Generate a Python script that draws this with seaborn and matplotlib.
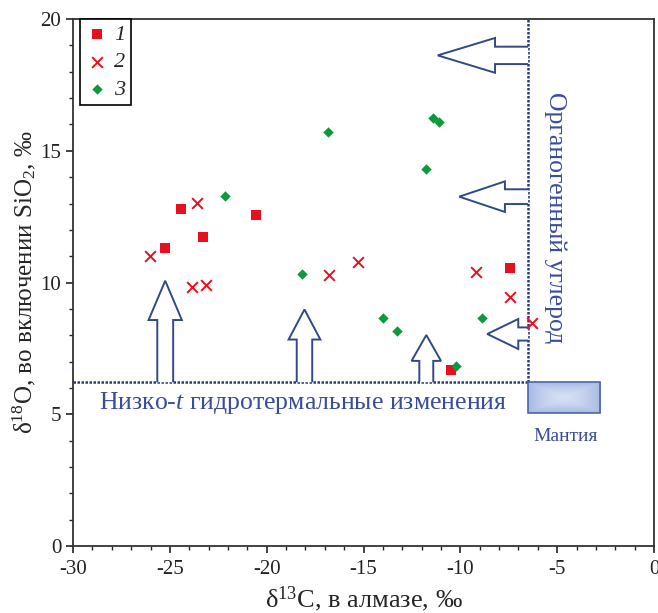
import numpy as np
import pandas as pd
import matplotlib
matplotlib.use("Agg")
import matplotlib.pyplot as plt
from matplotlib.patches import Polygon, Rectangle
import seaborn as sns

# ---- data ----
s1_x = [-25.25, -24.42, -23.29, -20.55, -10.49, -7.44]
s1_y = [11.31, 12.79, 11.73, 12.56, 6.68, 10.55]
s2_x = [-26.02, -23.61, -23.87, -23.15, -16.80, -15.27, -9.19, -7.42, -6.30]
s2_y = [10.99, 13.03, 9.82, 9.91, 10.28, 10.79, 10.39, 9.46, 8.45]
s3_x = [-22.17, -16.82, -18.18, -11.40, -11.11, -11.79, -14.01, -13.29, -8.90, -10.23]
s3_y = [13.28, 15.70, 10.31, 16.23, 16.09, 14.30, 8.64, 8.15, 8.64, 6.83]
series_labels = ["1", "2", "3"]

x_ticks = [-30, -25, -20, -15, -10, -5, 0]
y_ticks = [0, 5, 10, 15, 20]

hydro_y = 6.22      # low-t hydrothermal boundary
organic_x = -6.5    # organic carbon boundary
mantle_x = [-6.5, -2.77]
mantle_y = [5.05, 6.22]

df = pd.DataFrame({
    "x": s1_x + s2_x + s3_x,
    "y": s1_y + s2_y + s3_y,
    "s": [series_labels[0]] * len(s1_x) + [series_labels[1]] * len(s2_x) + [series_labels[2]] * len(s3_x),
})

sns.set_theme(style="ticks")
plt.rcParams["font.family"] = ["Liberation Serif", "DejaVu Serif"]
plt.rcParams["mathtext.fontset"] = "custom"
plt.rcParams["mathtext.rm"] = "Liberation Serif"
plt.rcParams["mathtext.it"] = "Liberation Serif:italic"
plt.rcParams["axes.unicode_minus"] = False

fig = plt.figure(figsize=(6.58, 6.13), dpi=100)
ax = fig.add_axes([0.111, 0.109, 0.883, 0.860])

red = "#e8101c"
green = "#0a9a3c"
navy = "#2f4a86"
textblue = "#3a4c9c"

palette = {"1": red, "2": red, "3": green}

for lab, m, sz in [("1", "s", 48), ("2", "x", 60), ("3", "D", 28)]:
    sub = df[df["s"] == lab]
    sns.scatterplot(data=sub, x="x", y="y", ax=ax, color=palette[lab], marker=m,
                    s=sz, linewidth=1.4 if m == "x" else 0, label=lab, zorder=5)

# reference lines
ax.plot([-30, organic_x], [hydro_y, hydro_y], color="#2b3a78", lw=1.8, ls=(0, (1, 0.6)), zorder=3)
ax.plot([organic_x, organic_x], [hydro_y, 20], color="#2b3a78", lw=1.8, ls=(0, (1, 0.6)), zorder=3)

# mantle box with gradient
gx = np.linspace(-1, 1, 120)
gy = np.linspace(-1, 1, 40)
GX, GY = np.meshgrid(gx, gy)
r = np.clip(np.maximum(np.abs(GX), np.abs(GY)), 0, 1) ** 1.5
c_in = np.array([0.84, 0.88, 0.96])
c_out = np.array([0.66, 0.73, 0.89])
img = c_in[None, None, :] * (1 - r[..., None]) + c_out[None, None, :] * r[..., None]
ax.imshow(img, extent=[mantle_x[0], mantle_x[1], mantle_y[0], mantle_y[1]], aspect="auto", zorder=2)
ax.add_patch(Rectangle((mantle_x[0], mantle_y[0]), mantle_x[1] - mantle_x[0], mantle_y[1] - mantle_y[0],
                       fill=False, edgecolor="#4a68a8", lw=1.2, zorder=3))


def up_arrow(xc, y0, yhead, ytip, hw, hhw):
    pts = [(xc - hw, y0), (xc - hw, yhead), (xc - hhw, yhead), (xc, ytip),
           (xc + hhw, yhead), (xc + hw, yhead), (xc + hw, y0)]
    ax.add_patch(Polygon(pts, closed=False, fill=True, facecolor="white", edgecolor=navy, lw=1.4, zorder=4))


def left_arrow(yc, x0, xhead, xtip, hw, hhw):
    pts = [(x0, yc + hw), (xhead, yc + hw), (xhead, yc + hhw), (xtip, yc),
           (xhead, yc - hhw), (xhead, yc - hw), (x0, yc - hw)]
    ax.add_patch(Polygon(pts, closed=False, fill=True, facecolor="white", edgecolor=navy, lw=1.4, zorder=4))


up_arrow(-25.24, hydro_y, 8.58, 10.07, 0.41, 0.86)
up_arrow(-18.05, hydro_y, 7.84, 8.98, 0.40, 0.82)
up_arrow(-11.76, hydro_y, 7.03, 8.01, 0.36, 0.76)
left_arrow(18.62, organic_x, -8.21, -11.17, 0.33, 0.66)
left_arrow(13.26, organic_x, -7.70, -10.06, 0.28, 0.58)
left_arrow(8.05, organic_x, -7.01, -8.61, 0.25, 0.57)

ax.text(-18.1, 5.43, "Низко-$t$ гидротермальные изменения", color=textblue, fontsize=18.5,
        ha="center", va="center", zorder=6)
ax.text(-5.1, 12.45, "Органогенный углерод", color=textblue, fontsize=18.5, rotation=270,
        ha="center", va="center", zorder=6)
ax.text(-4.55, 4.18, "Мантия", color=textblue, fontsize=14, ha="center", va="center", zorder=6)

ax.set_xlim(-30, 0)
ax.set_ylim(0, 20)
ax.set_xticks(x_ticks)
ax.set_yticks(y_ticks)
ax.set_xticks(np.arange(-30, 1, 1), minor=True)
ax.set_yticks(np.arange(0, 21, 1), minor=True)
ax.tick_params(axis="both", which="major", direction="out", length=5, width=1.2, labelsize=15, colors="#222222")
ax.tick_params(axis="both", which="minor", direction="out", length=3, width=1.0)
ax.tick_params(axis="x", pad=5)
for sp in ax.spines.values():
    sp.set_color("#333333")
    sp.set_linewidth(1.3)

ax.set_xlabel("δ$^{13}$С, в алмазе, $‰$", fontsize=19, labelpad=4)
ax.set_ylabel("δ$^{18}$O, во включении SiO$_2$, $‰$", fontsize=18, labelpad=2)

leg = ax.legend(loc="upper left", bbox_to_anchor=(0.012, 1.0), frameon=True, fancybox=False,
                edgecolor="black", framealpha=1, prop={"style": "italic", "size": 16},
                handletextpad=0.3, labelspacing=0.3, borderpad=0.25, handlelength=1.0,
                borderaxespad=0.0)
leg.get_frame().set_linewidth(1.2)

fig.savefig("out.png", dpi=100)
